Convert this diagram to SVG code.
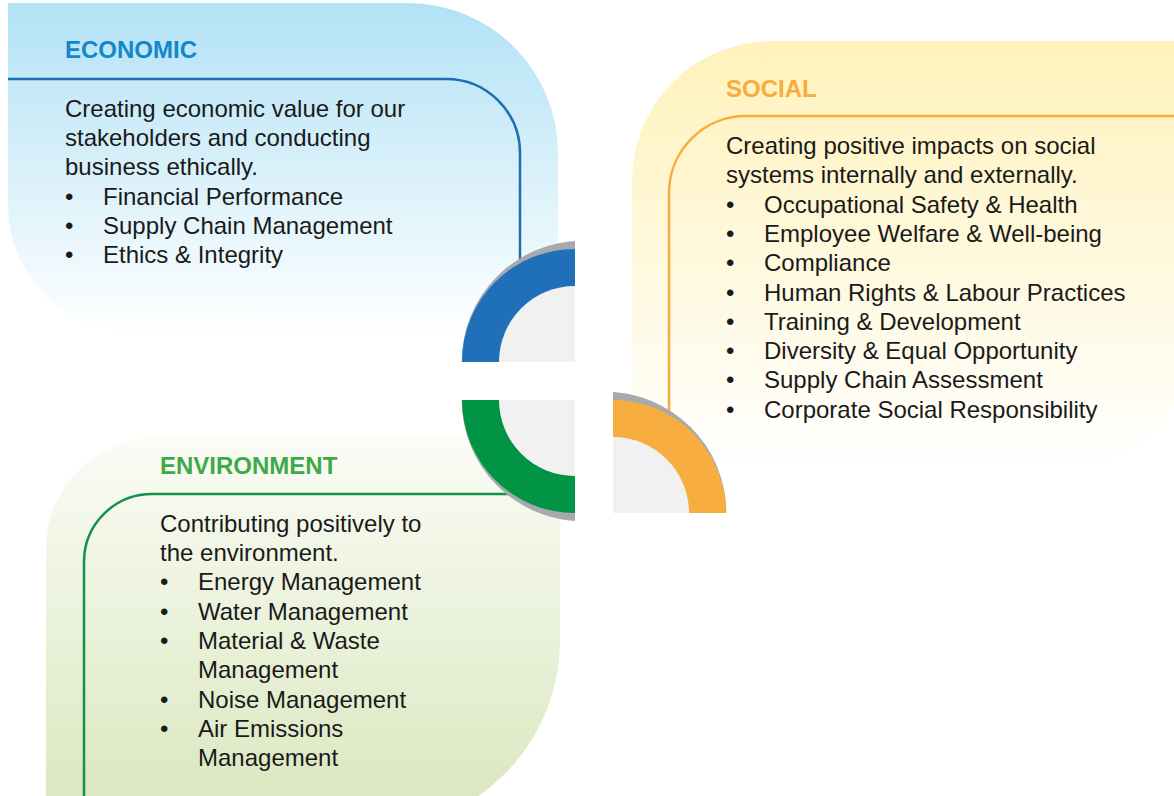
<svg xmlns="http://www.w3.org/2000/svg" width="1174" height="796" viewBox="0 0 1174 796">
<style>
.body{font-family:"Liberation Sans",Arial,Helvetica,sans-serif;font-size:24px;fill:#1a1a1a}
.head{font-family:"Liberation Sans",Arial,Helvetica,sans-serif;font-size:24px;font-weight:bold}
.line{fill:none;stroke-width:2.5}
.shadow{fill:#a7a9ac}
.inner{fill:#f1f1f1}
</style>
<defs>
<linearGradient id="gBlue" gradientUnits="userSpaceOnUse" x1="0" y1="3" x2="0" y2="335">
<stop offset="0" stop-color="#b2e2f5"/><stop offset="1" stop-color="#ffffff"/>
</linearGradient>
<linearGradient id="gYellow" gradientUnits="userSpaceOnUse" x1="0" y1="41" x2="0" y2="470">
<stop offset="0" stop-color="#fff2bb"/><stop offset="1" stop-color="#ffffff"/>
</linearGradient>
<linearGradient id="gGreen" gradientUnits="userSpaceOnUse" x1="0" y1="438" x2="0" y2="796">
<stop offset="0" stop-color="#fbfcf6"/><stop offset="1" stop-color="#dbe8c1"/>
</linearGradient>
<clipPath id="cBlue"><rect x="440" y="230" width="135" height="132"/></clipPath>
<clipPath id="cGreen"><rect x="440" y="400" width="135" height="130"/></clipPath>
<clipPath id="cOrange"><rect x="613" y="385" width="130" height="128"/></clipPath>
</defs>
<rect width="1174" height="796" fill="#ffffff"/>

<g id="economic">
<path d="M8,3 H408 A150,150 0 0 1 558,153 V335 H138 A130,130 0 0 1 8,205 Z" fill="url(#gBlue)"/>
<path class="line" stroke="#1f6db5" d="M8,79 H446 A74,74 0 0 1 520,153 V300"/>
<text class="head" x="65" y="57.5" fill="#1487ca">ECONOMIC</text>
<text class="body" x="65" y="117">Creating economic value for our</text>
<text class="body" x="65" y="146.2">stakeholders and conducting</text>
<text class="body" x="65" y="175.4">business ethically.</text>
<text class="body" x="65" y="204.6">•</text><text class="body" x="103" y="204.6">Financial Performance</text>
<text class="body" x="65" y="233.8">•</text><text class="body" x="103" y="233.8">Supply Chain Management</text>
<text class="body" x="65" y="263">•</text><text class="body" x="103" y="263">Ethics &amp; Integrity</text>
</g>

<g id="social">
<path d="M632,470 V181 A140,140 0 0 1 772,41 H1190 V340 A130,130 0 0 1 1060,470 Z" fill="url(#gYellow)"/>
<path class="line" stroke="#f7ac3b" d="M1174,116 H746 A77,77 0 0 0 669,193 V440"/>
<text class="head" x="726" y="96.5" fill="#f7ac3b">SOCIAL</text>
<text class="body" x="726" y="154">Creating positive impacts on social</text>
<text class="body" x="726" y="183.3">systems internally and externally.</text>
<text class="body" x="726" y="212.6">•</text><text class="body" x="764" y="212.6">Occupational Safety &amp; Health</text>
<text class="body" x="726" y="241.9">•</text><text class="body" x="764" y="241.9">Employee Welfare &amp; Well-being</text>
<text class="body" x="726" y="271.2">•</text><text class="body" x="764" y="271.2">Compliance</text>
<text class="body" x="726" y="300.5">•</text><text class="body" x="764" y="300.5">Human Rights &amp; Labour Practices</text>
<text class="body" x="726" y="329.8">•</text><text class="body" x="764" y="329.8">Training &amp; Development</text>
<text class="body" x="726" y="359.1">•</text><text class="body" x="764" y="359.1">Diversity &amp; Equal Opportunity</text>
<text class="body" x="726" y="388.4">•</text><text class="body" x="764" y="388.4">Supply Chain Assessment</text>
<text class="body" x="726" y="417.7">•</text><text class="body" x="764" y="417.7">Corporate Social Responsibility</text>
</g>

<g id="environment">
<path d="M46,800 V548 A110,110 0 0 1 156,438 H560 V640 A190,190 0 0 1 370,830 H46 Z" fill="url(#gGreen)"/>
<path class="line" stroke="#14924a" d="M84,796 V562 A68,68 0 0 1 152,494 H520"/>
<text class="head" x="160" y="474" fill="#3daa4a">ENVIRONMENT</text>
<text class="body" x="160" y="531.7">Contributing positively to</text>
<text class="body" x="160" y="561">the environment.</text>
<text class="body" x="160" y="590.3">•</text><text class="body" x="198" y="590.3">Energy Management</text>
<text class="body" x="160" y="619.6">•</text><text class="body" x="198" y="619.6">Water Management</text>
<text class="body" x="160" y="648.9">•</text><text class="body" x="198" y="648.9">Material &amp; Waste</text>
<text class="body" x="198" y="678.2">Management</text>
<text class="body" x="160" y="707.5">•</text><text class="body" x="198" y="707.5">Noise Management</text>
<text class="body" x="160" y="736.8">•</text><text class="body" x="198" y="736.8">Air Emissions</text>
<text class="body" x="198" y="766.1">Management</text>
</g>

<g id="ring-economic">
<circle class="shadow" cx="583" cy="362" r="121.3" clip-path="url(#cBlue)"/>
<path d="M462,362 A113,113 0 0 1 575,249 L575,362 Z" fill="#1f70b8"/>
<path class="inner" d="M499,362 A76,76 0 0 1 575,286 L575,362 Z"/>
</g>

<g id="ring-environment">
<circle class="shadow" cx="583" cy="400" r="121.3" clip-path="url(#cGreen)"/>
<path d="M462,400 A113,113 0 0 0 575,513 L575,400 Z" fill="#009444"/>
<path class="inner" d="M499,400 A76,76 0 0 0 575,476 L575,400 Z"/>
</g>

<g id="ring-social">
<circle class="shadow" cx="605" cy="513" r="121.3" clip-path="url(#cOrange)"/>
<path d="M613,400 A113,113 0 0 1 726,513 L613,513 Z" fill="#f7ad40"/>
<path class="inner" d="M613,437 A76,76 0 0 1 689,513 L613,513 Z"/>
</g>

<g id="connectors"/>
</svg>
